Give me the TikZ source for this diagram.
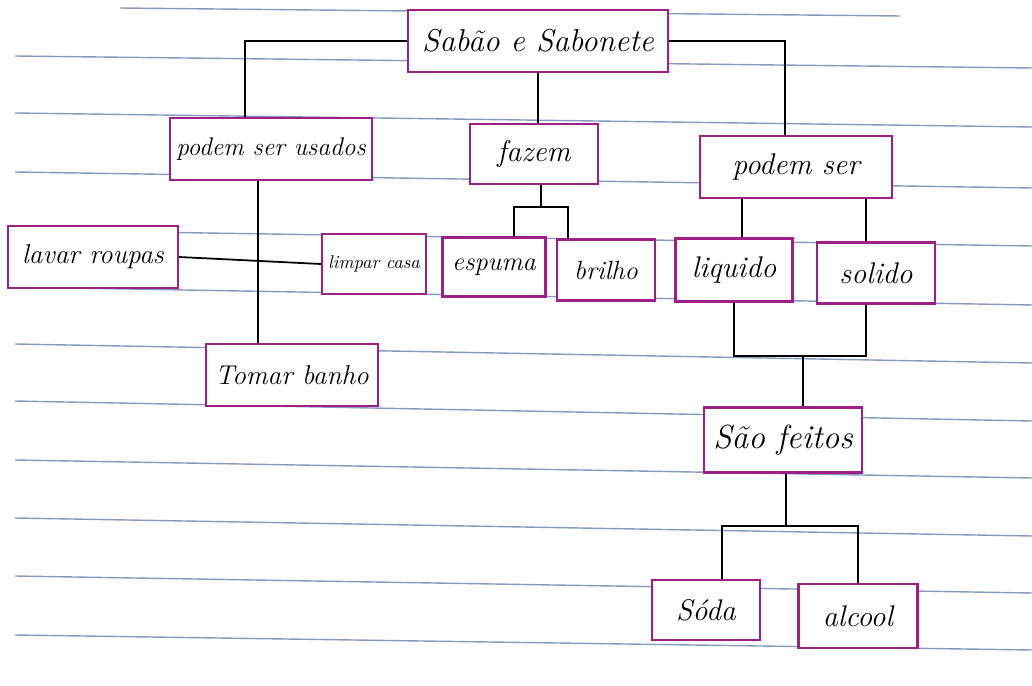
\documentclass[tikz,border=0pt]{standalone}
\usepackage{tikz}
\usetikzlibrary{positioning}
\definecolor{boxpink}{RGB}{160,30,135}
\definecolor{paperblue}{RGB}{130,155,190}

\begin{document}
\begin{tikzpicture}[x=0.02cm, y=-0.02cm, thick,
    main/.style = {draw=boxpink, fill=white, line width=1.2pt, font=\fontsize{17}{19}\selectfont\itshape, inner sep=2pt},
    link/.style = {draw=black, line width=1pt},
    paper/.style = {draw=paperblue, line width=0.8pt}]
    \useasboundingbox (0,0) rectangle (1032,686);
    % notebook lines
    \foreach \l/\r in {56/68, 113/127, 172/188, 230/246, 287/305, 344/363, 401/421, 460/478, 518/536, 576/593, 635/650}
        \draw[paper] (15,\l) -- (1032,\r);
    \draw[paper] (120,8) -- (900,16);
    % boxes
    \node[main, minimum width=5.2cm, minimum height=1.24cm, font=\fontsize{18}{20}\selectfont\itshape] (sabao) at (538,41) {Sabão e Sabonete};
    \node[main, minimum width=4.04cm, minimum height=1.24cm, font=\fontsize{14.5}{17}\selectfont\itshape] (usados) at (271,149) {podem ser usados};
    \node[main, minimum width=2.56cm, minimum height=1.2cm] (fazem) at (534,154) {fazem};
    \node[main, minimum width=3.84cm, minimum height=1.24cm] (podem) at (796,167) {podem ser};
    \node[main, minimum width=3.4cm, minimum height=1.24cm, font=\fontsize{15.5}{17}\selectfont\itshape] (lavar) at (93,257) {lavar roupas};
    \node[main, minimum width=2.08cm, minimum height=1.2cm, font=\fontsize{10.5}{12}\selectfont\itshape] (limpar) at (374,264) {limpar casa};
    \node[main, minimum width=2.06cm, minimum height=1.18cm, font=\fontsize{15}{17}\selectfont\itshape] (espuma) at (494,267) {espuma};
    \node[main, minimum width=1.96cm, minimum height=1.22cm, font=\fontsize{15}{17}\selectfont\itshape] (brilho) at (606,270) {brilho};
    \node[main, minimum width=2.34cm, minimum height=1.26cm] (liquido) at (734,270) {liquido};
    \node[main, minimum width=2.36cm, minimum height=1.22cm] (solido) at (876,273) {solido};
    \node[main, minimum width=3.44cm, minimum height=1.24cm, font=\fontsize{15.5}{17}\selectfont\itshape] (tomar) at (292,375) {Tomar banho};
    \node[main, minimum width=3.16cm, minimum height=1.3cm, font=\fontsize{19}{21}\selectfont\itshape] (feitos) at (783,440) {São feitos};
    \node[main, minimum width=2.16cm, minimum height=1.2cm] (soda) at (706,610) {Sóda};
    \node[main, minimum width=2.38cm, minimum height=1.28cm] (alcool) at (858,616) {alcool};
    % top level
    \coordinate (ut) at ([xshift=-0.52cm]usados.north);
    \coordinate (pt) at ([xshift=-0.22cm]podem.north);
    \draw[link] (sabao.west) -| (ut);
    \draw[link] (sabao.south) -- (sabao.south |- fazem.north);
    \draw[link] (sabao.east) -| (pt);
    % podem ser usados
    \coordinate (ub) at ([xshift=-0.26cm]usados.south);
    \draw[link] (ub) -- (ub |- tomar.north);
    \draw[link] (lavar.east) -- (limpar.west);
    % fazem
    \coordinate (fzj) at (541,207);
    \coordinate (et) at ([xshift=0.4cm]espuma.north);
    \coordinate (bt) at ([xshift=-0.76cm]brilho.north);
    \draw[link] (fzj |- fazem.south) -- (fzj);
    \draw[link] (et) |- (fzj) -| (bt);
    % podem ser
    \coordinate (lt) at ([xshift=0.16cm]liquido.north);
    \coordinate (st) at ([xshift=-0.2cm]solido.north);
    \draw[link] (lt) -- (lt |- podem.south);
    \draw[link] (st) -- (st |- podem.south);
    % liquido e solido
    \coordinate (lsj) at (803,356);
    \coordinate (sb) at ([xshift=-0.2cm]solido.south);
    \draw[link] (liquido.south) |- (lsj) -| (sb);
    \draw[link] (lsj) -- (lsj |- feitos.north);
    % sao feitos
    \coordinate (fj) at (786,526);
    \coordinate (dt) at ([xshift=0.32cm]soda.north);
    \draw[link] (fj |- feitos.south) -- (fj);
    \draw[link] (dt) |- (fj) -| (alcool.north);
\end{tikzpicture}
\end{document}
